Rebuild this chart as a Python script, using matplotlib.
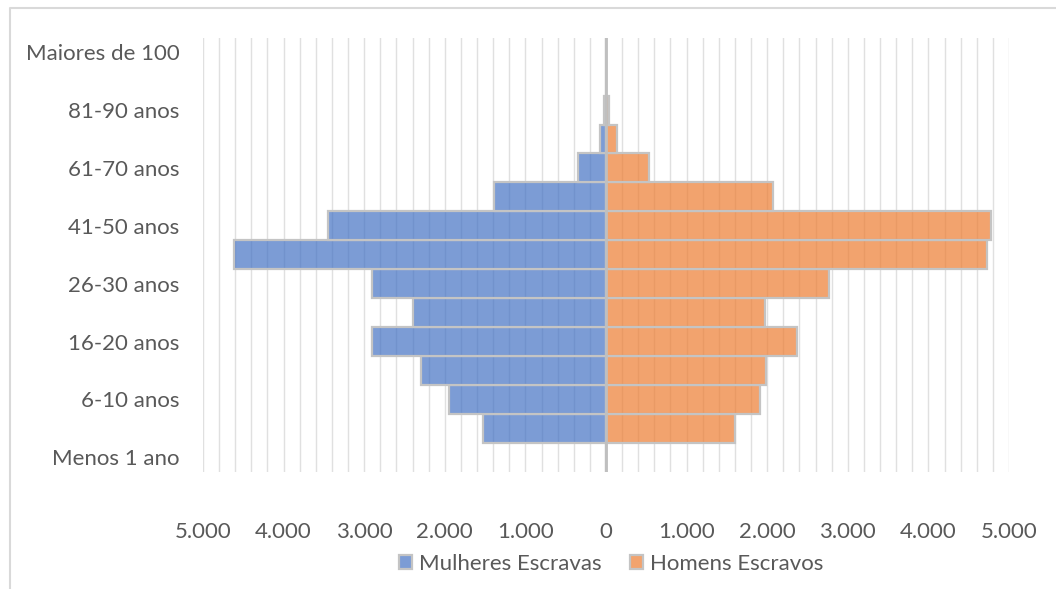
import matplotlib
matplotlib.use("Agg")
import matplotlib.pyplot as plt
from matplotlib.colors import to_rgba
from matplotlib.lines import Line2D
from matplotlib.ticker import FuncFormatter, MultipleLocator
import numpy as np

# Age groups, youngest first
age_groups = [
    "Menos 1 ano", "1-5 anos", "6-10 anos", "11-15 anos", "16-20 anos",
    "21-25 anos", "26-30 anos", "31-40 anos", "41-50 anos", "51-60 anos",
    "61-70 anos", "71-80 anos", "81-90 anos", "91-100 anos", "Maiores de 100",
]
mulheres = [0, 1520, 1945, 2300, 2900, 2395, 2900, 4615, 3445, 1390,
            345, 75, 28, 0, 0]
homens = [0, 1603, 1910, 1985, 2375, 1975, 2765, 4730, 4775, 2078,
          537, 137, 42, 0, 0]

series_names = ["Mulheres Escravas", "Homens Escravos"]
blue = "#4472C4"
orange = "#ED7D31"

plt.rcParams["font.family"] = ["Lato", "DejaVu Sans"]
FS = 16

fig = plt.figure(figsize=(10.56, 5.89), dpi=100)
ax = fig.add_axes([203 / 1056, 1 - 471.7 / 589, (1009 - 203) / 1056, (471.7 - 37.7) / 589])

y = np.arange(len(age_groups))
edge = "#C4C4C4"
ax.barh(y, -np.array(mulheres), height=1.0, color=to_rgba(blue, 0.7),
        edgecolor=edge, linewidth=1.6, label=series_names[0], zorder=2)
ax.barh(y, homens, height=1.0, color=to_rgba(orange, 0.7),
        edgecolor=edge, linewidth=1.6, label=series_names[1], zorder=2)

ax.set_xlim(-5000, 5000)
ax.set_ylim(-0.5, len(age_groups) - 0.5)

# vertical gridlines every 200, labels every 1000
ax.xaxis.set_major_locator(MultipleLocator(1000))
ax.xaxis.set_minor_locator(MultipleLocator(200))
ax.grid(axis="x", which="both", color="#E0E0E0", linewidth=1.0, zorder=0)
ax.set_axisbelow(True)
ax.axvline(0, color="#BFBFBF", linewidth=2.0, zorder=3)

ax.xaxis.set_major_formatter(FuncFormatter(lambda v, p: f"{abs(int(round(v))):,}".replace(",", ".")))
ax.set_yticks(y[::2])
ax.set_yticklabels(age_groups[::2])

ax.tick_params(axis="x", which="both", length=0, pad=36.5, labelsize=FS, labelcolor="#595959")
ax.tick_params(axis="y", length=0, pad=17, labelsize=FS, labelcolor="#595959")
for s in ax.spines.values():
    s.set_visible(False)

leg = ax.legend(loc="center", bbox_to_anchor=(611 / 1056, 1 - 564 / 589),
                bbox_transform=fig.transFigure, ncol=2, frameon=False,
                fontsize=FS, handlelength=0.6, handleheight=0.6,
                handletextpad=0.3, columnspacing=1.3, labelcolor="#595959",
                borderpad=0)

# chart area border
fig.add_artist(Line2D([10 / 1056, 10 / 1056, 1.0], [0.0, 1 - 8 / 589, 1 - 8 / 589],
                      transform=fig.transFigure, color="#D9D9D9", linewidth=1.5))

fig.savefig("out.png", dpi=100)
